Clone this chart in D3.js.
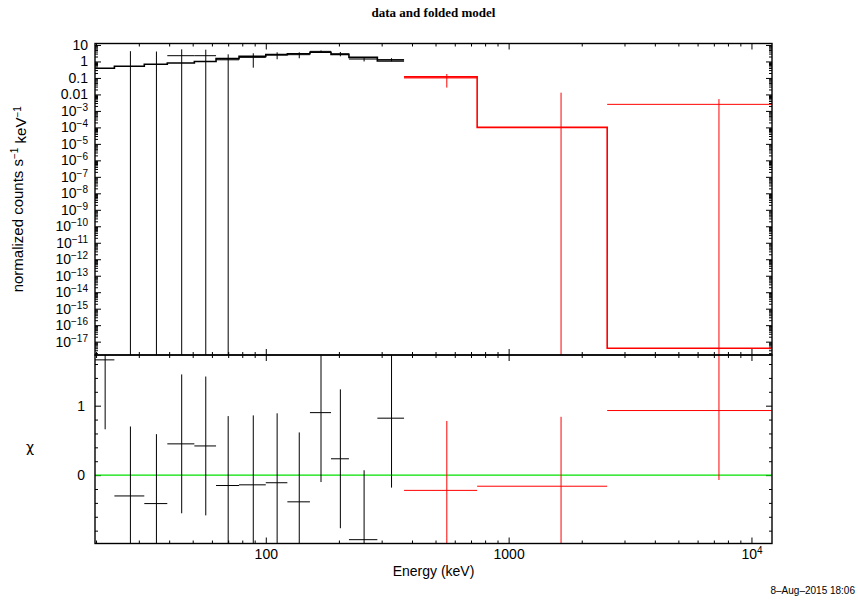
<!DOCTYPE html>
<html><head><meta charset="utf-8">
<script src="https://cdn.jsdelivr.net/npm/d3@7"></script>
<style>body{margin:0;background:#fff} svg{display:block}</style>
</head><body><svg id="c" width="858" height="607"></svg>
<script>
// ---- data ----
const blackLo    = [19.8, 23.8, 31.6, 39.3, 50.8, 62.4, 77.6, 100, 122.7, 152, 185.6, 220, 288];
const blackHi    = [23.8, 31.6, 39.3, 50.8, 62.4, 77.6, 100, 122.7, 152, 185.6, 220, 288, 371];
const blackModel = [0.385, 0.51, 0.68, 0.81, 1.0, 1.48, 2.05, 2.6, 2.96, 3.6, 2.7, 1.78, 1.07];
const blackData  = [40, -1.07, -1.63, 2.24, 2.24, 1.26, 1.78, 2.48, 2.58, 4.1, 2.9, 1.4, 1.3];
const blackErr   = [24, 5.27, 5.63, 3.18, 2.95, 1.45, 1.36, 1.12, 1.02, 0.55, 0.85, 0.4, 0.28];
const blackChi   = [1.66, -0.30, -0.41, 0.45, 0.42, -0.15, -0.14, -0.11, -0.385, 0.90, 0.235, -0.93, 0.82];
const redLo      = [371, 742, 2546];
const redHi      = [742, 2546, 12150];
const redModel   = [0.116, 1e-4, 4e-18];
const redData    = [0.1, -0.0024, 0.0025];
const redErr     = [0.074, 0.0152, 0.0027];
const redChi     = [-0.22, -0.16, 0.93];
const chiErr     = [1, 1, 1, 1, 1, 1, 1, 1, 1, 1, 1, 1, 1];
const yDecades   = [1, 0, -1, -2, -3, -4, -5, -6, -7, -8, -9, -10, -11, -12, -13, -14, -15, -16, -17];
const xMajor     = [100, 1000, 10000];
const xLabels    = ["100", "1000", "10^4"];
const chiMajor   = [0, 1];

const title = "data and folded model";
const xTitle = "Energy (keV)";
const stamp = "8\u2013Aug\u20132015 18:06";

// ---- layout ----
const L = 95, R = 772, T = 43.5, M = 355, B = 543.5;
const svg = d3.select("#c");
const font = "'Liberation Sans', Arial, sans-serif";

const x = d3.scaleLog().domain([19.8, 12150]).range([L, R]);
const yTop = d3.scaleLog().domain([Math.pow(10, -17.81), Math.pow(10, 1.09)]).range([M, T]);
const yBot = d3.scaleLinear().domain([-0.985, 1.73]).range([B, M]);

// minor tick values
const xMinor = [];
for (let e = 1; e <= 4; e++) for (let k = 2; k <= 9; k++) { const v = k * Math.pow(10, e); if (v >= 19.8 && v <= 12150) xMinor.push(v); }
const yMinor = [];
for (let e = -18; e <= 1; e++) for (let k = 2; k <= 9; k++) { const v = k * Math.pow(10, e); if (v >= yTop.domain()[0] && v <= yTop.domain()[1]) yMinor.push(v); }
const chiMinor = d3.range(-0.8, 1.71, 0.2).filter(v => Math.abs(v) > 1e-6 && Math.abs(v - 1) > 1e-6);

// clip paths
const defs = svg.append("defs");
defs.append("clipPath").attr("id", "clipTop").append("rect").attr("x", L).attr("y", T).attr("width", R - L).attr("height", M - T);
defs.append("clipPath").attr("id", "clipBot").append("rect").attr("x", L).attr("y", M).attr("width", R - L).attr("height", B - M);

function axisG(axis, tx, ty) {
  const g = svg.append("g").attr("transform", `translate(${tx},${ty})`).call(axis);
  g.select(".domain").remove();
  g.selectAll(".tick line").attr("stroke", "#000").attr("stroke-width", 1);
  g.selectAll("text").attr("font-family", font).attr("font-size", 14).attr("fill", "#000");
  return g;
}
function supLabel(sel, base, exp) {
  sel.text(null);
  sel.append("tspan").text(base);
  sel.append("tspan").attr("font-size", 10).attr("dy", "-0.5em").text(exp);
}

// ---- top panel axes ----
const yLab = axisG(d3.axisLeft(yTop).tickValues(yDecades.map(e => Math.pow(10, e))).tickSize(-6).tickPadding(7).tickFormat(""), L, 0);
yLab.selectAll(".tick text").each(function(d, i) {
  const e = yDecades[i];
  const t = d3.select(this);
  if (e === 1) t.text("10"); else if (e === 0) t.text("1"); else if (e === -1) t.text("0.1"); else if (e === -2) t.text("0.01");
  else supLabel(t, "10", "\u2212" + (-e));
});
axisG(d3.axisLeft(yTop).tickValues(yMinor).tickSize(-3).tickFormat(""), L, 0);
axisG(d3.axisRight(yTop).tickValues(yDecades.map(e => Math.pow(10, e))).tickSize(-6).tickFormat(""), R, 0);
axisG(d3.axisRight(yTop).tickValues(yMinor).tickSize(-3).tickFormat(""), R, 0);
axisG(d3.axisTop(x).tickValues(xMajor).tickSize(-6).tickFormat(""), 0, T);
axisG(d3.axisTop(x).tickValues(xMinor).tickSize(-3).tickFormat(""), 0, T);
axisG(d3.axisBottom(x).tickValues(xMajor).tickSize(-6).tickFormat(""), 0, M);
axisG(d3.axisBottom(x).tickValues(xMinor).tickSize(-3).tickFormat(""), 0, M);

// ---- bottom panel axes ----
axisG(d3.axisTop(x).tickValues(xMajor).tickSize(-6).tickFormat(""), 0, M);
axisG(d3.axisTop(x).tickValues(xMinor).tickSize(-3).tickFormat(""), 0, M);
const xAx = axisG(d3.axisBottom(x).tickValues(xMajor).tickSize(-6).tickPadding(6).tickFormat(""), 0, B);
xAx.selectAll(".tick text").each(function(d, i) {
  const s = xLabels[i].split("^");
  const t = d3.select(this);
  if (s.length === 1) t.text(s[0]); else supLabel(t, s[0], s[1]);
});
axisG(d3.axisBottom(x).tickValues(xMinor).tickSize(-3).tickFormat(""), 0, B);
axisG(d3.axisLeft(yBot).tickValues(chiMajor).tickSize(-6).tickPadding(10).tickFormat(d3.format("d")), L, 0);
axisG(d3.axisLeft(yBot).tickValues(chiMinor).tickSize(-3).tickFormat(""), L, 0);
axisG(d3.axisRight(yBot).tickValues(chiMajor).tickSize(-6).tickFormat(""), R, 0);
axisG(d3.axisRight(yBot).tickValues(chiMinor).tickSize(-3).tickFormat(""), R, 0);

// ---- top panel marks ----
const gTop = svg.append("g").attr("clip-path", "url(#clipTop)");
const lo = yTop.domain()[0] * 0.1, hi = yTop.domain()[1] * 10;
const clampY = v => yTop(Math.min(Math.max(v, lo), hi));

function drawSet(lowE, highE, model, data, err, color) {
  data.forEach((d, i) => {
    const c = (lowE[i] + highE[i]) / 2;
    if (d > 0) gTop.append("line").attr("x1", x(lowE[i])).attr("x2", x(highE[i])).attr("y1", clampY(d)).attr("y2", clampY(d))
      .attr("stroke", color).attr("stroke-width", 1);
    gTop.append("line").attr("x1", x(c)).attr("x2", x(c)).attr("y1", clampY(d - err[i])).attr("y2", clampY(d + err[i]))
      .attr("stroke", color).attr("stroke-width", 1);
  });
  const pts = [];
  model.forEach((m, i) => { pts.push([x(lowE[i]), clampY(m)]); pts.push([x(highE[i]), clampY(m)]); });
  gTop.append("path").attr("d", d3.line()(pts)).attr("fill", "none").attr("stroke", color).attr("stroke-width", 1.6);
}
drawSet(blackLo, blackHi, blackModel, blackData, blackErr, "#000");
drawSet(redLo, redHi, redModel, redData, redErr, "#ff0000");

// ---- residual marks ----
const gBot = svg.append("g").attr("clip-path", "url(#clipBot)");
gBot.append("line").attr("x1", L).attr("x2", R).attr("y1", yBot(0)).attr("y2", yBot(0)).attr("stroke", "#00e000").attr("stroke-width", 1.2);
function drawChi(lowE, highE, chi, color) {
  chi.forEach((v, i) => {
    const c = (lowE[i] + highE[i]) / 2;
    gBot.append("line").attr("x1", x(lowE[i])).attr("x2", x(highE[i])).attr("y1", yBot(v)).attr("y2", yBot(v)).attr("stroke", color).attr("stroke-width", 1);
    gBot.append("line").attr("x1", x(c)).attr("x2", x(c)).attr("y1", yBot(v - chiErr[i])).attr("y2", yBot(v + chiErr[i])).attr("stroke", color).attr("stroke-width", 1);
  });
}
drawChi(blackLo, blackHi, blackChi, "#000");
drawChi(redLo, redHi, redChi, "#ff0000");

// ---- frames ----
[[T, M], [M, B]].forEach(([a, b]) => svg.append("rect").attr("x", L).attr("y", a).attr("width", R - L).attr("height", b - a)
  .attr("fill", "none").attr("stroke", "#000").attr("stroke-width", 1.4));

// ---- titles ----
svg.append("text").attr("x", (L + R) / 2).attr("y", 17).attr("text-anchor", "middle")
  .attr("font-family", "'Liberation Serif', 'Times New Roman', serif").attr("font-weight", "bold").attr("font-size", 13).text(title);
svg.append("text").attr("x", (L + R) / 2).attr("y", 576).attr("text-anchor", "middle")
  .attr("font-family", font).attr("font-size", 14).text(xTitle);
const yt = svg.append("text").attr("transform", `translate(23,${(T + M) / 2}) rotate(-90)`).attr("text-anchor", "middle")
  .attr("font-family", font).attr("font-size", 15);
yt.append("tspan").text("normalized counts s");
yt.append("tspan").attr("font-size", 10).attr("dy", "-0.5em").text("\u22121");
yt.append("tspan").attr("dy", "0.5em").text(" keV");
yt.append("tspan").attr("font-size", 10).attr("dy", "-0.5em").text("\u22121");
svg.append("text").attr("x", 30).attr("y", (M + B) / 2 + 3).attr("text-anchor", "middle")
  .attr("font-family", "'DejaVu Sans', sans-serif").attr("font-size", 14).text("\u03c7");
svg.append("text").attr("x", 855).attr("y", 594).attr("text-anchor", "end")
  .attr("font-family", font).attr("font-size", 10).text(stamp);
</script>
</body></html>
